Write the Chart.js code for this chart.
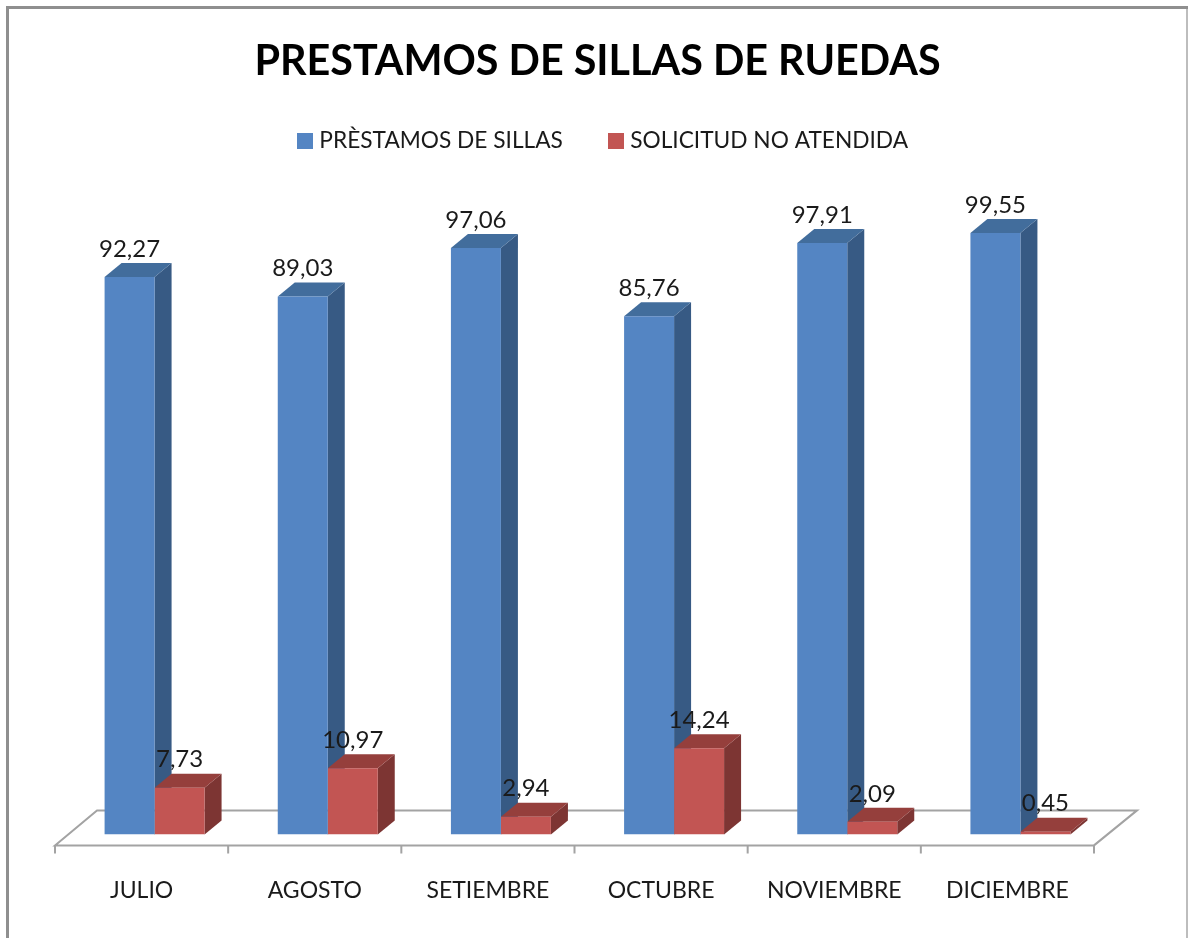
<!DOCTYPE html>
<html>
<head>
<meta charset="utf-8">
<style>
  html, body { margin: 0; padding: 0; background: #fff; }
  #wrap { width: 1188px; height: 938px; }
</style>
<script src="https://cdn.jsdelivr.net/npm/chart.js@4"></script>
</head>
<body>
<div id="wrap"><canvas id="chart" width="1188" height="938"></canvas></div>
<script>
const categories = ['JULIO', 'AGOSTO', 'SETIEMBRE', 'OCTUBRE', 'NOVIEMBRE', 'DICIEMBRE'];
const prestamos = [92.27, 89.03, 97.06, 85.76, 97.91, 99.55];
const noAtendida = [7.73, 10.97, 2.94, 14.24, 2.09, 0.45];

const FONT = 'Lato, sans-serif';
const DEPTH_X = 17, DEPTH_Y = 14;
const COLORS = [
  { front: '#5485c3', top: '#426d9c', side: '#375a84' },
  { front: '#c25553', top: '#953f3c', side: '#7d3533' },
];

const fmt = v => v.toFixed(2).replace('.', ',');

function poly(ctx, pts, color) {
  ctx.fillStyle = color;
  ctx.beginPath();
  pts.forEach((p, i) => i ? ctx.lineTo(p[0], p[1]) : ctx.moveTo(p[0], p[1]));
  ctx.closePath();
  ctx.fill();
}

// legend swatch, an image so the text can sit closer than boxWidth allows
function swatch(color) {
  const c = document.createElement('canvas');
  c.width = 16;
  c.height = 16;
  const g = c.getContext('2d');
  g.fillStyle = color;
  g.fillRect(0, 0, 16, 16);
  return c;
}

// ── 3D LOOK: frame, floor, axis ticks and bar faces ─────────────
const box3d = {
  id: 'box3d',
  afterLayout(chart) {
    // the title and legend sit a little right of the plot centre
    chart.titleBlock.left += 10;
    chart.titleBlock.right += 10;
    chart.legend.left += 17.5;
    chart.legend.right += 17.5;
    chart.legend.top -= 7;
    chart.legend.bottom -= 7;
  },
  beforeDatasetsDraw(chart) {
    const { ctx, scales: { x } } = chart;
    const base = chart.chartArea.bottom;
    ctx.save();

    // chart frame
    ctx.fillStyle = '#8f8f8f';
    ctx.fillRect(6, 6, 1182, 3);
    ctx.fillRect(6, 6, 3, 932);
    ctx.fillStyle = '#bdbdbd';
    ctx.fillRect(1186, 9, 2, 929);

    // floor
    const frontL = x.left - 13, frontR = x.right - 13;
    const frontY = base + 11, backY = base - 24;
    ctx.strokeStyle = '#a3a3a3';
    ctx.lineWidth = 2;
    ctx.beginPath();
    ctx.moveTo(frontL, frontY);
    ctx.lineTo(frontL + 42, backY);
    ctx.lineTo(frontR + 43, backY);
    ctx.lineTo(frontR, frontY);
    ctx.closePath();
    ctx.stroke();

    // axis ticks on the front edge
    const step = (frontR - frontL) / categories.length;
    ctx.beginPath();
    for (let i = 0; i <= categories.length; i++) {
      ctx.moveTo(frontL + step * i, frontY);
      ctx.lineTo(frontL + step * i, frontY + 8);
    }
    ctx.stroke();

    // side and top faces of every bar
    chart.data.datasets.forEach((ds, d) => {
      const c = COLORS[d];
      chart.getDatasetMeta(d).data.forEach(bar => {
        const l = bar.x - bar.width / 2, r = bar.x + bar.width / 2, t = bar.y;
        poly(ctx, [[r, t], [r + DEPTH_X, t - DEPTH_Y], [r + DEPTH_X, base - DEPTH_Y], [r, base]], c.side);
        poly(ctx, [[l, t], [l + DEPTH_X, t - DEPTH_Y], [r + DEPTH_X, t - DEPTH_Y], [r, t]], c.top);
      });
    });
    ctx.restore();
  },
  afterDatasetsDraw(chart) {
    const { ctx } = chart;
    ctx.save();
    ctx.font = '24px ' + FONT;
    ctx.fillStyle = '#1a1a1a';
    ctx.textAlign = 'center';
    ctx.textBaseline = 'middle';
    chart.data.datasets.forEach((ds, d) => {
      chart.getDatasetMeta(d).data.forEach((bar, i) => {
        ctx.fillText(fmt(ds.data[i]), bar.x, bar.y - 28);
      });
    });
    ctx.restore();
  },
};

new Chart(document.getElementById('chart'), {
  type: 'bar',
  data: {
    labels: categories,
    datasets: [
      { label: 'PRÈSTAMOS DE SILLAS', data: prestamos, backgroundColor: COLORS[0].front },
      { label: 'SOLICITUD NO ATENDIDA', data: noAtendida, backgroundColor: COLORS[1].front },
    ],
  },
  options: {
    responsive: false,
    animation: false,
    events: [],
    categoryPercentage: 0.5774,
    barPercentage: 1,
    layout: { padding: { left: 68, right: 81, top: 0, bottom: 12 } },
    scales: {
      x: {
        grid: { display: false, tickLength: 20 },
        border: { display: false },
        ticks: {
          color: '#1a1a1a',
          font: { family: FONT, size: 23 },
          padding: 22,
          labelOffset: -13,
          maxRotation: 0,
          autoSkip: false,
        },
      },
      y: { display: false, min: 0, max: 110.1 },
    },
    plugins: {
      title: {
        display: true,
        text: 'PRESTAMOS DE SILLAS DE RUEDAS',
        color: '#000',
        font: { family: FONT, size: 41.3, weight: 'bold' },
        padding: { top: 37, bottom: 0 },
      },
      legend: {
        position: 'top',
        labels: {
          color: '#1a1a1a',
          font: { family: FONT, size: 22.7 },
          usePointStyle: true,
          pointStyleWidth: 6,
          padding: 50,
          generateLabels: chart => Chart.defaults.plugins.legend.labels.generateLabels(chart)
            .map((item, i) => ({ ...item, pointStyle: swatch(COLORS[i].front) })),
        },
      },
      tooltip: { enabled: false },
    },
  },
  plugins: [box3d],
});
</script>
</body>
</html>
